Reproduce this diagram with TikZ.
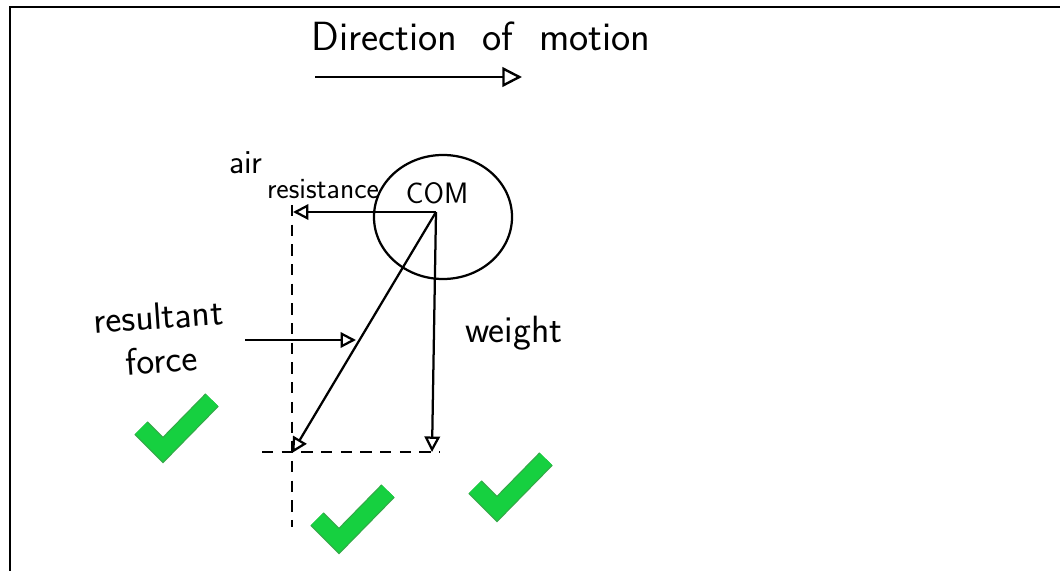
\documentclass[tikz,border=0pt]{standalone}
\usepackage{tikz}
\usetikzlibrary{positioning,arrows.meta,shapes.geometric}
\definecolor{tickgreen}{RGB}{22,208,64}
\definecolor{tickedge}{RGB}{52,168,72}
\tikzset{
  frame/.style={line width=1.6pt, draw=black},
  force/.style={line width=1.6pt, draw=black, -{Triangle[open,length=11pt,width=11pt]}},
  motion/.style={line width=1.7pt, draw=black, -{Triangle[open,length=14pt,width=14pt]}},
  construct/.style={line width=1.6pt, draw=black, dash pattern=on 8pt off 6pt},
  hand/.style={font=\sffamily\fontsize{24}{26}\selectfont, inner sep=0pt},
  checkedge/.style={line width=0.47cm, draw=tickedge, line join=miter},
  checkfill/.style={line width=0.41cm, draw=tickgreen, line join=miter}
}

\begin{document}
\begin{tikzpicture}[x=0.025cm,y=-0.025cm]
      \useasboundingbox (0,0) rectangle (1060,571);
      % edge of the scanned sheet
      \draw[frame] (10,571) -- (10,7) -- (1060,7);
      % direction of motion
      \node[hand, font=\sffamily\fontsize{29}{31}\selectfont] (dirlabel) at (481,36) {Direction\ \ of\ \ motion};
      \coordinate (mstart) at (315,77);
      \coordinate (mend) at (522,77);
      \draw[motion] (mstart) -- (mend);
      % body and centre of mass
      \node[draw, ellipse, line width=1.6pt, minimum width=3.45cm, minimum height=3.1cm] (body) at (443,217) {};
      \coordinate (com) at (436,212);
      \node[hand, font=\sffamily\fontsize{21}{23}\selectfont] (comlabel) at (437,193) {COM};
      % construction lines
      \coordinate (vtop) at (292,205);
      \coordinate (vbot) at (292,527);
      \coordinate (hleft) at (262,452);
      \coordinate (hright) at (440,452);
      \draw[construct] (vtop) -- (vbot);
      \draw[construct] (hleft) -- (hright);
      % forces
      \coordinate (airend) at (293,212);
      \coordinate (weightend) at (432,452);
      \coordinate (resend) at (292,453);
      \draw[force] (com) -- (airend);
      \draw[force] (com) -- (weightend);
      \draw[force] (com) -- (resend);
      \node[hand] (airlabel) at (246,163) {air};
      \node[hand, font=\sffamily\fontsize{21}{23}\selectfont] (resistlabel) at (323,189) {resistance};
      \node[hand, font=\sffamily\fontsize{27}{29}\selectfont] (weightlabel) at (514,333) {weight};
      % resultant label and its pointer
      \node[hand, font=\sffamily\fontsize{27}{31}\selectfont, align=center, rotate=4] (reslabel) at (160,338) {resultant\\force};
      \coordinate (rstart) at (245,340);
      \coordinate (rend) at (356,340);
      \draw[force] (rstart) -- (rend);
      % marks
      \foreach \x/\y in {163/450, 339/541, 497/509} {
        \draw[checkedge] (\x-22,\y-22) -- (\x,\y) -- (\x+49,\y-50);
        \draw[checkfill] (\x-22,\y-22) -- (\x,\y) -- (\x+49,\y-50);
      }
\end{tikzpicture}
\end{document}
